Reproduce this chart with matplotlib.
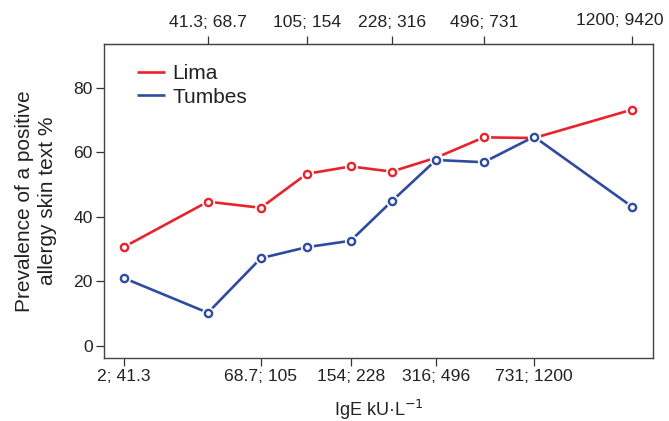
import matplotlib
matplotlib.use("Agg")
import matplotlib.pyplot as plt

plt.rcParams['font.family'] = ['Liberation Sans', 'DejaVu Sans']

# Representative IgE level for each decile group (kU/L), plotted on a log axis
ige_level = [25.4, 53.3, 84.9, 127, 187, 268, 396, 602, 937, 2220]
decile_labels = ["2; 41.3", "41.3; 68.7", "68.7; 105", "105; 154", "154; 228",
                 "228; 316", "316; 496", "496; 731", "731; 1200", "1200; 9420"]

lima = [30.6, 44.7, 42.8, 53.3, 55.6, 54.0, 58.3, 64.6, 64.4, 73.2]
tumbes = [21.1, 10.3, 27.2, 30.6, 32.6, 44.8, 57.6, 56.9, 64.8, 43.1]

series = [("Lima", lima, "#e8232b"), ("Tumbes", tumbes, "#2f4b9f")]

text_color = "#222222"
fig = plt.figure(figsize=(6.69, 4.21), dpi=100)
ax = fig.add_axes([0.1555, 0.1496, 0.8205, 0.7459])
ax.set_xscale("log")

for i, (name, vals, col) in enumerate(series):
    z = 2 + 3 * i
    ax.plot(ige_level, vals, color=col, lw=1.9, zorder=z, label=name,
            solid_capstyle="butt")
    # white halo leaves a small gap between line and point
    ax.plot(ige_level, vals, ls="none", marker="o", ms=9.5, mfc="white",
            mec="none", zorder=z + 1)
    ax.plot(ige_level, vals, ls="none", marker="o", ms=5.2, mfc="white",
            mec=col, mew=1.7, zorder=z + 2)

ax.set_xlim(21.4, 2663)
ax.set_ylim(-3.7, 93.5)
ax.set_yticks([0, 20, 40, 60, 80])

ax.minorticks_off()
ax.set_xticks(ige_level[0::2])
ax.set_xticklabels(decile_labels[0::2])

top = ax.secondary_xaxis("top")
top.set_xticks(ige_level[1::2])
top.set_xticklabels(decile_labels[1::2][:-1] + [""])
top.minorticks_off()
# the last top label is nudged left so it stays inside the figure
ax.annotate(decile_labels[-1], xy=(ige_level[-1], 1.0),
            xycoords=ax.get_xaxis_transform(), xytext=(-9, 11.3),
            textcoords="offset points", ha="center", va="bottom",
            fontsize=12.6, color=text_color, annotation_clip=False)

for a in (ax, top):
    a.tick_params(direction="out", length=6, width=0.9, colors="#333333",
                  labelcolor=text_color, labelsize=12.6, pad=2)
top.tick_params(axis="x", pad=4)
ax.tick_params(axis="x", which="minor", bottom=False)
top.tick_params(axis="x", which="minor", top=False)

for s in ax.spines.values():
    s.set_color("#444444")
    s.set_linewidth(1.0)
top.spines["top"].set_color("#444444")

ax.set_ylabel("Prevalence of a positive\nallergy skin text %", fontsize=15,
              color=text_color, linespacing=1.3)
ax.yaxis.set_label_coords(-0.0856, 0.5)
ax.set_xlabel("IgE kU\u00b7L$^{-1}$", fontsize=13, color=text_color)
ax.xaxis.set_label_coords(0.5, -0.128)

leg = ax.legend(loc="upper left", bbox_to_anchor=(0.060, 0.935), frameon=False,
                fontsize=15, handlelength=1.35, handletextpad=0.35,
                labelspacing=0.2, borderaxespad=0.0, borderpad=0.0)
for t in leg.get_texts():
    t.set_color(text_color)

fig.savefig("out.png", dpi=100)
